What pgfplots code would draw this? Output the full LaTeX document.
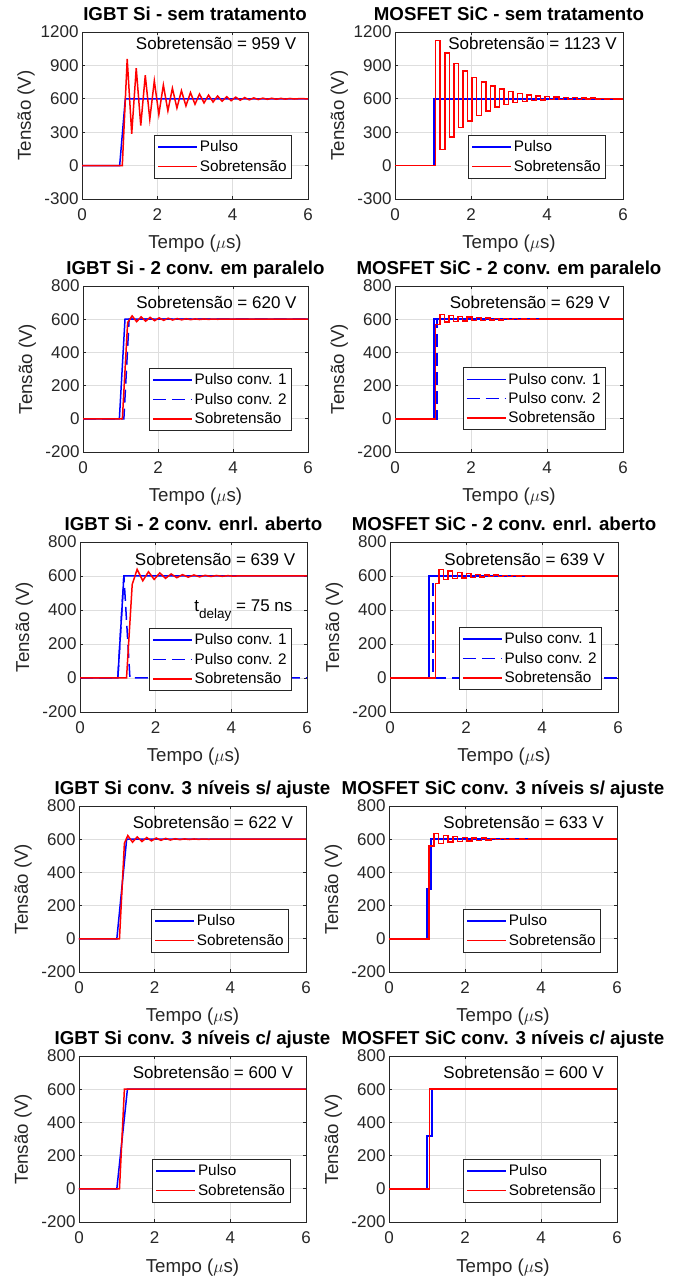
\documentclass[border=0pt]{standalone}
\usepackage{fontspec}
\setmainfont{Liberation Sans}
\usepackage{pgfplots}
\pgfplotsset{compat=1.18}

\definecolor{axgray}{gray}{0.15}
\definecolor{gridgray}{gray}{0.87}

\tikzset{
  txt/.style={font=\fontsize{17}{20}\selectfont, text=black},
  dsh/.style={blue, dash pattern=on 13pt off 6pt},
}

\pgfplotsset{
  mat/.style={
    scale only axis, anchor=south west,
    xmin=0, xmax=6, xtick={0,2,4,6},
    grid=major, grid style={color=gridgray, line width=0.7pt},
    axis line style={color=axgray, line width=0.9pt},
    tick style={color=axgray, line width=0.9pt},
    tick align=inside, major tick length=3pt, tick pos=both,
    ticklabel style={font=\fontsize{17}{20}\selectfont, text=axgray},
    xticklabel style={yshift=-6pt},
    /pgf/number format/assume math mode=true,
    /pgf/number format/1000 sep={},
    xlabel={Tempo ($\mu$s)}, ylabel={Tensão (V)},
    label style={font=\fontsize{18.7}{22}\selectfont, text=axgray},
    xlabel style={at={([yshift=-50pt]axis description cs:0.5,0)}, anchor=base},
    ylabel style={at={([xshift=-51pt]axis description cs:0,0.5)}, anchor=base},
    title style={font=\bfseries\fontsize{18.7}{22}\selectfont, at={(0.5,1)}, anchor=base, yshift=5pt},
    legend style={anchor=north east, font=\fontsize{15.3}{17}\selectfont,
      draw=axgray, line width=0.6pt, fill=white, text=black,
      inner xsep=3pt, inner ysep=2pt,
      nodes={inner ysep=3.4pt}},
    legend cell align=left,
    legend image code/.code={\draw[##1, line width=1.5pt] (0pt,0pt) -- (39pt,0pt);},
    every axis plot/.append style={line width=1.5pt},
  },
  r12/.style={ymin=-300, ymax=1200, ytick={-300,0,300,600,900,1200}},
  r8/.style={ymin=-200, ymax=800, ytick={-200,0,200,400,600,800}},
}

\begin{document}
\begin{tikzpicture}
\path[use as bounding box] (0,0) rectangle (678pt,1278pt);

% linha 1
\begin{axis}[mat, r12, at={(82pt,1079pt)}, width=226pt, height=167pt,
  title={IGBT Si - sem tratamento}, legend style={at={(0.929,0.383)}}]
\addplot[blue] coordinates {(0,0) (1.0,0) (1.15,600) (6,600)};
\addplot[red] coordinates {(0,0) (1.07,0) (1.20,959) (1.32,286) (1.44,875) (1.56,360)
  (1.68,811) (1.80,416) (1.92,761) (2.04,459) (2.16,724) (2.28,492) (2.40,695)
  (2.52,517) (2.64,673) (2.76,536) (2.88,656) (3.00,551) (3.12,643) (3.24,563)
  (3.36,633) (3.48,571) (3.60,625) (3.72,578) (3.84,619) (3.96,583) (4.08,615)
  (4.20,587) (4.32,611) (4.44,590) (4.56,608) (4.68,593) (4.80,606) (4.92,595)
  (5.04,605) (5.16,596) (5.28,604) (5.40,597) (5.52,603) (5.64,598) (5.76,601) (6,600)};
\legend{Pulso,Sobretensão}
\node[txt] at (axis cs:3.56,1100) {Sobretensão = 959 V};
\end{axis}

\begin{axis}[mat, r12, at={(395pt,1079pt)}, width=228pt, height=167pt,
  title={MOSFET SiC - sem tratamento}, legend style={at={(0.925,0.383)}}]
\addplot[blue, const plot] coordinates {(0,0) (1.02,600) (6,600)};
\addplot[red, const plot] coordinates {(0,0) (1.07,1123) (1.19,145) (1.31,1010)
  (1.43,258) (1.55,915) (1.67,342) (1.79,848) (1.91,402) (2.03,790) (2.15,452)
  (2.27,750) (2.39,492) (2.51,716) (2.63,525) (2.75,690) (2.87,548) (2.99,666)
  (3.11,565) (3.23,648) (3.35,576) (3.47,635) (3.59,584) (3.71,625) (3.83,589)
  (3.95,620) (4.07,592) (4.19,616) (4.31,593) (4.43,612) (4.55,594) (4.67,610)
  (4.79,595) (4.91,608) (5.03,596) (5.15,606) (5.27,597) (5.39,604) (5.51,598)
  (5.63,602) (5.75,600) (6,600)};
\legend{Pulso,Sobretensão}
\node[txt] at (axis cs:3.62,1100) {Sobretensão = 1123 V};
\end{axis}

% linha 2
\begin{axis}[mat, r8, at={(83pt,826pt)}, width=225pt, height=166pt,
  title={IGBT Si - 2 conv. em paralelo}, legend style={at={(0.929,0.506)}}]
\addplot[blue] coordinates {(0,0) (0.97,0) (1.12,600) (6,600)};
\addplot[dsh] coordinates {(0,0) (1.09,0) (1.23,600) (6,600)};
\addplot[red] coordinates {(0,0) (1.05,0) (1.19,580) (1.31,620) (1.43,585) (1.55,614)
  (1.67,588) (1.79,611) (1.91,591) (2.03,608) (2.15,593) (2.27,606) (2.39,595)
  (2.51,604) (2.63,596) (2.75,603) (2.87,597) (2.99,602) (3.11,598) (3.23,601.5)
  (3.35,599) (3.47,601) (3.59,599.5) (3.71,600.5) (3.83,600) (6,600)};
\legend{Pulso conv. 1,Pulso conv. 2,Sobretensão}
\node[txt] at (axis cs:3.56,700) {Sobretensão = 620 V};
\end{axis}

\begin{axis}[mat, r8, at={(395pt,826pt)}, width=228pt, height=166pt,
  title={MOSFET SiC - 2 conv. em paralelo}, legend style={at={(0.925,0.51)}}]
\addplot[blue, const plot] coordinates {(0,0) (1.02,600) (6,600)};
\addplot[dsh, const plot] coordinates {(0,0) (1.11,600) (6,600)};
\addplot[red, const plot] coordinates {(0,0) (1.07,568) (1.18,629) (1.30,582)
  (1.42,622) (1.54,586) (1.66,617) (1.78,589) (1.90,613) (2.02,591) (2.14,610)
  (2.26,593) (2.38,607) (2.50,595) (2.62,605) (2.74,596) (2.86,604) (2.98,597)
  (3.10,603) (3.22,598) (3.34,602) (3.46,598.5) (3.58,601) (3.70,599) (3.82,600.5)
  (3.94,600) (6,600)};
\legend{Pulso conv. 1,Pulso conv. 2,Sobretensão}
\node[txt] at (axis cs:3.55,700) {Sobretensão = 629 V};
\end{axis}

% linha 3
\begin{axis}[mat, r8, at={(80pt,566pt)}, width=227pt, height=170pt,
  title={IGBT Si - 2 conv. enrl. aberto}, legend style={at={(0.934,0.494)}}]
\addplot[blue] coordinates {(0,0) (1.0,0) (1.16,600) (6,600)};
\addplot[dsh] coordinates {(0,0) (1.0,0) (1.16,600) (1.32,0) (6,0)};
\addplot[red] coordinates {(0,0) (1.23,0) (1.38,550) (1.51,639) (1.66,572) (1.81,625)
  (1.96,580) (2.11,618) (2.26,586) (2.41,612) (2.56,590) (2.71,608) (2.86,593)
  (3.01,606) (3.16,595) (3.31,604) (3.46,597) (3.61,603) (3.76,598) (3.91,602)
  (4.06,599) (4.21,601) (4.36,600) (6,600)};
\legend{Pulso conv. 1,Pulso conv. 2,Sobretensão}
\node[txt] at (axis cs:3.57,700) {Sobretensão = 639 V};
\node[txt, anchor=base west, inner xsep=0pt] at (axis cs:3.02,390)
  {t\raisebox{-6.6pt}{\fontsize{13.5}{14}\selectfont delay} = 75 ns};
\end{axis}

\begin{axis}[mat, r8, at={(390pt,566pt)}, width=228pt, height=170pt,
  title={MOSFET SiC - 2 conv. enrl. aberto}, legend style={at={(0.93,0.50)}}]
\addplot[blue, const plot] coordinates {(0,0) (1.02,600) (6,600)};
\addplot[dsh, const plot] coordinates {(0,0) (1.02,600) (1.13,0) (6,0)};
\addplot[red, const plot] coordinates {(0,0) (1.20,555) (1.29,639) (1.41,578)
  (1.53,628) (1.65,584) (1.77,620) (1.89,588) (2.01,614) (2.13,591) (2.25,610)
  (2.37,594) (2.49,607) (2.61,596) (2.73,605) (2.85,597) (2.97,604) (3.09,598)
  (3.21,603) (3.33,599) (3.45,601.5) (3.57,599.5) (3.69,600.5) (3.81,600) (6,600)};
\legend{Pulso conv. 1,Pulso conv. 2,Sobretensão}
\node[txt] at (axis cs:3.54,700) {Sobretensão = 639 V};
\end{axis}

% linha 4
\begin{axis}[mat, r8, at={(79pt,306pt)}, width=227pt, height=166pt,
  title={IGBT Si conv. 3 níveis s/ ajuste}, legend style={at={(0.925,0.38)}}]
\addplot[blue] coordinates {(0,0) (1.0,0) (1.26,600) (6,600)};
\addplot[red] coordinates {(0,0) (1.07,0) (1.20,575) (1.29,622) (1.415,582) (1.54,614)
  (1.665,586) (1.79,610) (1.915,590) (2.04,607) (2.165,593) (2.29,605) (2.415,595)
  (2.54,603) (2.665,597) (2.79,602) (2.915,598) (3.04,601.5) (3.165,599) (3.29,601)
  (3.415,599.5) (3.54,600) (6,600)};
\legend{Pulso,Sobretensão}
\node[txt] at (axis cs:3.54,700) {Sobretensão = 622 V};
\end{axis}

\begin{axis}[mat, r8, at={(389pt,306pt)}, width=228pt, height=166pt,
  title={MOSFET SiC conv. 3 níveis s/ ajuste}, legend style={at={(0.93,0.38)}}]
\addplot[blue, const plot] coordinates {(0,0) (1.0,300) (1.11,600) (6,600)};
\addplot[red, const plot] coordinates {(0,0) (1.05,560) (1.18,633) (1.305,575)
  (1.43,622) (1.555,582) (1.68,615) (1.805,587) (1.93,611) (2.055,590) (2.18,608)
  (2.305,593) (2.43,606) (2.555,595) (2.68,604) (2.805,597) (2.93,603) (3.055,598)
  (3.18,602) (3.305,599) (3.43,601) (3.555,599.5) (3.68,600) (6,600)};
\legend{Pulso,Sobretensão}
\node[txt] at (axis cs:3.54,700) {Sobretensão = 633 V};
\end{axis}

% linha 5
\begin{axis}[mat, r8, at={(79pt,56pt)}, width=227pt, height=166pt,
  title={IGBT Si conv. 3 níveis c/ ajuste}, legend style={at={(0.93,0.38)}}]
\addplot[blue] coordinates {(0,0) (1.0,0) (1.28,600) (6,600)};
\addplot[red] coordinates {(0,0) (1.07,0) (1.20,600) (6,600)};
\legend{Pulso,Sobretensão}
\node[txt] at (axis cs:3.54,700) {Sobretensão = 600 V};
\end{axis}

\begin{axis}[mat, r8, at={(389pt,56pt)}, width=228pt, height=166pt,
  title={MOSFET SiC conv. 3 níveis c/ ajuste}, legend style={at={(0.93,0.38)}}]
\addplot[blue, const plot] coordinates {(0,0) (1.0,318) (1.13,600) (6,600)};
\addplot[red, const plot] coordinates {(0,0) (1.06,600) (6,600)};
\legend{Pulso,Sobretensão}
\node[txt] at (axis cs:3.54,700) {Sobretensão = 600 V};
\end{axis}
\end{tikzpicture}
\end{document}
